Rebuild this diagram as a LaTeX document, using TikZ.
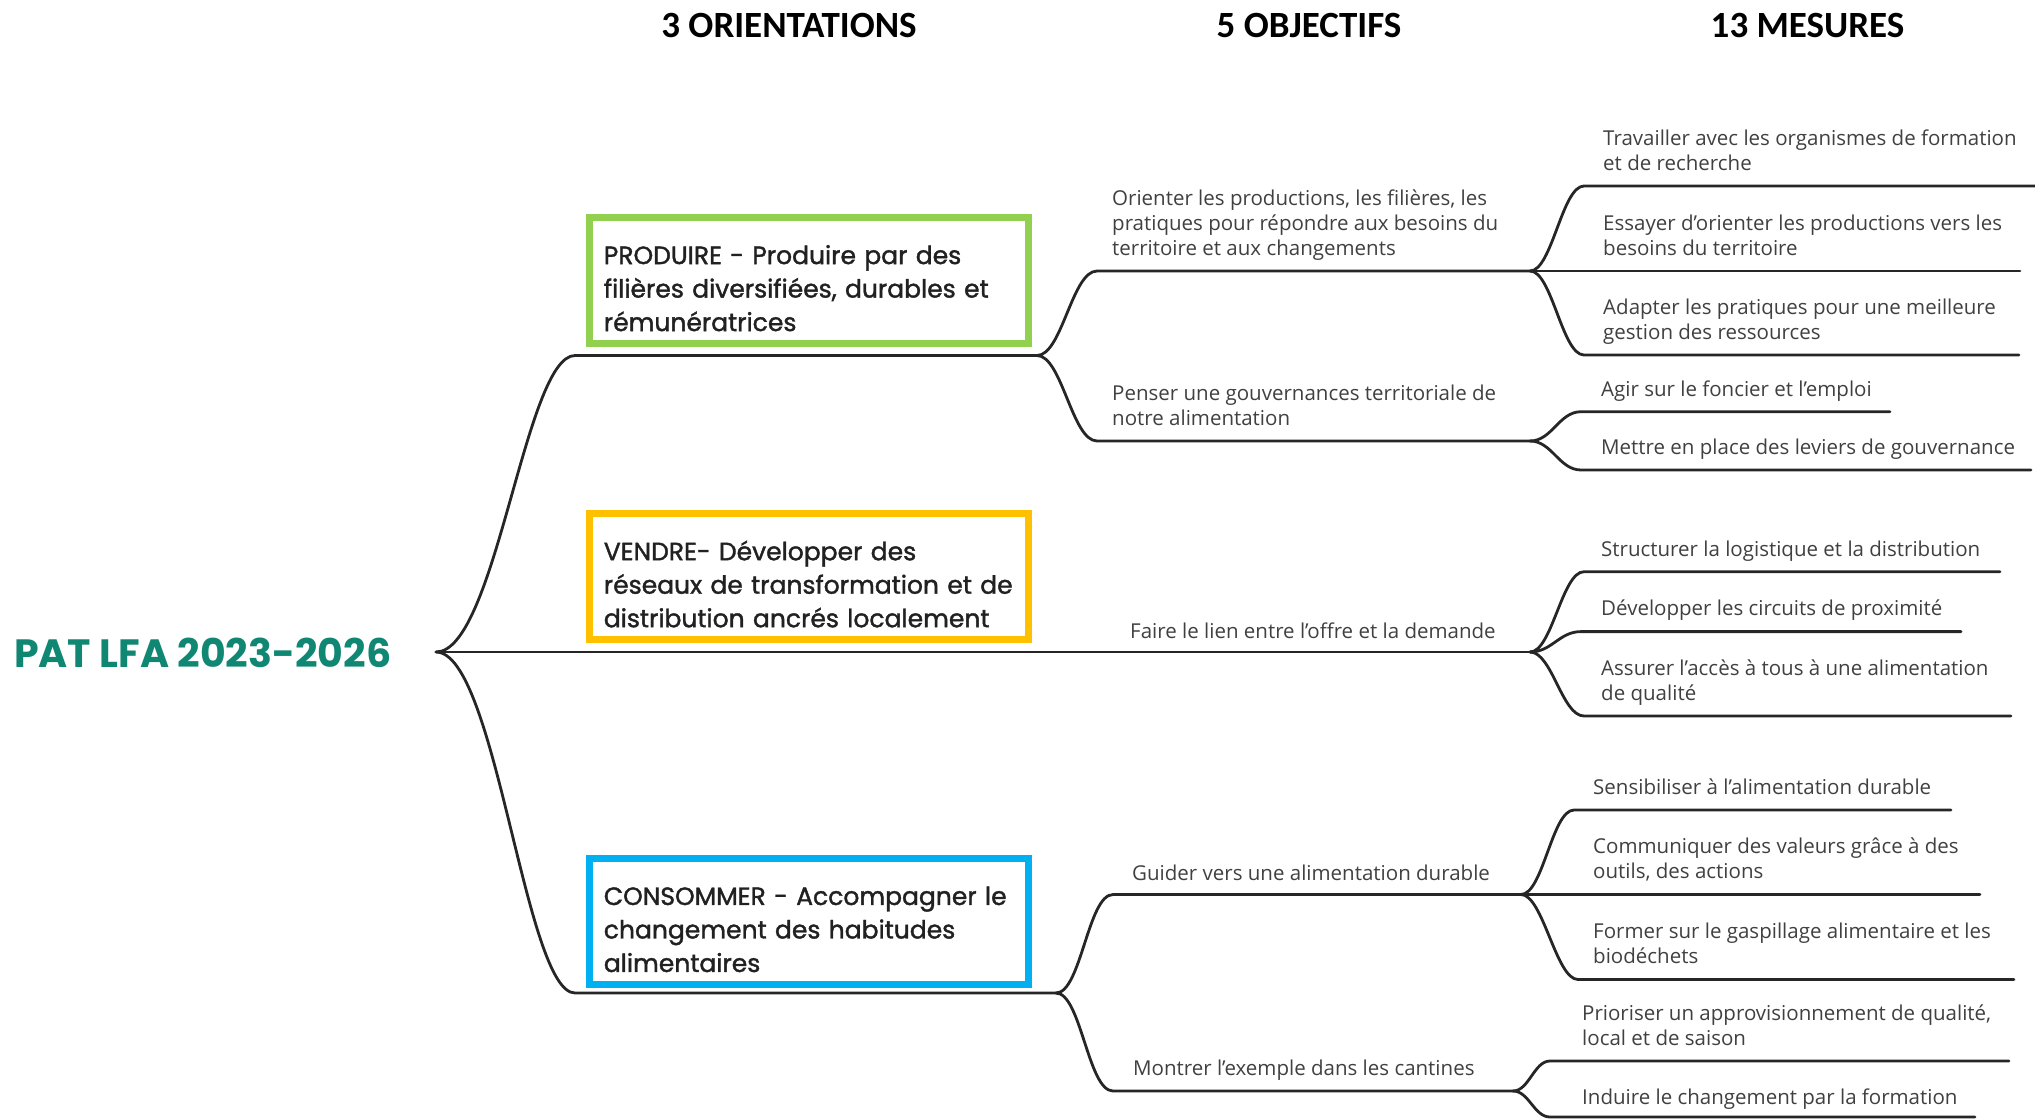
\documentclass[tikz,border=0pt]{standalone}
\usepackage{fontspec}
\setmainfont{Open Sans}
\newfontfamily\titlefont{Poppins}
\newfontfamily\boxfont{Poppins}[FakeBold=1.5]
\newfontfamily\headfont{Carlito}
\usepackage{xcolor}
\usetikzlibrary{positioning}

\definecolor{prodgreen}{RGB}{146,208,80}
\definecolor{vendorange}{RGB}{255,192,0}
\definecolor{consblue}{RGB}{0,176,240}
\definecolor{titleteal}{RGB}{16,135,114}
\definecolor{linegray}{RGB}{38,38,38}
\definecolor{leafgray}{RGB}{64,64,64}
\definecolor{boxtext}{RGB}{33,33,33}

\begin{document}
\begin{tikzpicture}[x=1pt, y=-1pt,
        head/.style={font=\headfont\bfseries\fontsize{37}{40}\selectfont, anchor=base, inner sep=0pt},
        orient/.style={draw, line width=7pt, text width=410pt, inner xsep=14.35pt, inner ysep=0pt, minimum height=126pt, align=left, text=boxtext,
            font=\boxfont\fontsize{25}{33.5}\selectfont, execute at begin node=\rule{0pt}{44.5pt}, execute at end node=\strut},
        leaftext/.style={anchor=south west, inner sep=0pt, align=left, text=leafgray, font=\fontsize{20.5}{25}\selectfont, execute at end node=\strut},
        branch/.style={draw=linegray, line width=2.8pt, line cap=round}]

        \useasboundingbox (0,0) rectangle (2035,1119);

        % Headers
        \node[head] (hor) at (789,37) {3 ORIENTATIONS};
        \node[head] (hob) at (1309,37) {5 OBJECTIFS};
        \node[head] (hme) at (1807.5,37) {13 MESURES};

        % Root
        \node[anchor=base west, inner sep=0pt, text=titleteal, font=\titlefont\bfseries\fontsize{39.5}{42}\selectfont] (pat) at (14,667) {PAT LFA 2023-2026};
        \coordinate (root) at (436,652);

        % Orientations
        \node[orient, draw=prodgreen] (produire) at (808.85,280.35) {PRODUIRE - Produire par des\\filières diversifiées, durables et\\rémunératrices};
        \node[orient, draw=vendorange] (vendre) at (808.85,576.5) {VENDRE- Développer des\\réseaux de transformation et de\\distribution ancrés localement};
        \node[orient, draw=consblue] (consommer) at (808.85,921.25) {CONSOMMER - Accompagner le\\changement des habitudes\\alimentaires};

        \coordinate (prods) at (575,355.5);  \coordinate (prode) at (1037,355.5);
        \coordinate (conss) at (575,993);    \coordinate (conse) at (1056,993);

        % Objectifs
        \coordinate (o1s) at (1097,271);   \coordinate (o1e) at (1530,271);
        \coordinate (o2s) at (1097,441);   \coordinate (o2e) at (1530,441);
        \coordinate (o3e) at (1530,652);
        \coordinate (o4s) at (1113,894.5); \coordinate (o4e) at (1521,894.5);
        \coordinate (o5s) at (1113,1091);  \coordinate (o5e) at (1513,1091);

        \node[leaftext] (o1) at (1112,262.7) {Orienter les productions, les filières, les\\pratiques pour répondre aux besoins du\\territoire et aux changements};
        \node[leaftext] (o2) at (1112,432.7) {Penser une gouvernances territoriale de\\notre alimentation};
        \node[leaftext] (o3) at (1130,646) {Faire le lien entre l'offre et la demande};
        \node[leaftext] (o4) at (1132,888) {Guider vers une alimentation durable};
        \node[leaftext] (o5) at (1133,1083) {Montrer l'exemple dans les cantines};

        % Mesures
        \coordinate (m1s) at (1584,186);    \coordinate (m1e) at (2035,186);
        \coordinate (m2e) at (2020,271);
        \coordinate (m3s) at (1584,355);    \coordinate (m3e) at (2019,355);
        \coordinate (m4s) at (1581,411.7);  \coordinate (m4e) at (1890,411.7);
        \coordinate (m5s) at (1581,470);    \coordinate (m5e) at (2031,470);
        \coordinate (m6s) at (1584,571.7);  \coordinate (m6e) at (2000,571.7);
        \coordinate (m7s) at (1581,631.6);  \coordinate (m7e) at (1961,631.6);
        \coordinate (m8s) at (1584,716);    \coordinate (m8e) at (2011,716);
        \coordinate (m9s) at (1574,810);    \coordinate (m9e) at (1951,810);
        \coordinate (m10e) at (1980,894.5);
        \coordinate (m11s) at (1578,979.5); \coordinate (m11e) at (2014,979.5);
        \coordinate (m12s) at (1550,1061);  \coordinate (m12e) at (2009,1061);
        \coordinate (m13s) at (1550,1117);  \coordinate (m13e) at (1975,1117);

        \node[leaftext] (m1) at (1603,178) {Travailler avec les organismes de formation\\et de recherche};
        \node[leaftext] (m2) at (1603,263) {Essayer d'orienter les productions vers les\\besoins du territoire};
        \node[leaftext] (m3) at (1603,347) {Adapter les pratiques pour une meilleure\\gestion des ressources};
        \node[leaftext] (m4) at (1601,403.7) {Agir sur le foncier et l'emploi};
        \node[leaftext] (m5) at (1601,462) {Mettre en place des leviers de gouvernance};
        \node[leaftext] (m6) at (1601,563.7) {Structurer la logistique et la distribution};
        \node[leaftext] (m7) at (1601,623.6) {Développer les circuits de proximité};
        \node[leaftext] (m8) at (1601,708) {Assurer l'accès à tous à une alimentation\\de qualité};
        \node[leaftext] (m9) at (1593,802) {Sensibiliser à l'alimentation durable};
        \node[leaftext] (m10) at (1593,886.5) {Communiquer des valeurs grâce à des\\outils, des actions};
        \node[leaftext] (m11) at (1593,971.5) {Former sur le gaspillage alimentaire et les\\biodéchets};
        \node[leaftext] (m12) at (1582,1053) {Prioriser un approvisionnement de qualité,\\local et de saison};
        \node[leaftext] (m13) at (1582,1112) {Induire le changement par la formation};

        % Connections: root to orientations
        \draw[branch] (root) .. controls +(60,0) and +(-50,0) .. (prods) -- (prode);
        \draw[branch] (root) -- (o3e);
        \draw[branch] (root) .. controls +(60,0) and +(-50,0) .. (conss) -- (conse);

        % orientations to objectifs
        \draw[branch] (prode) .. controls +(25,0) and +(-25,0) .. (o1s) -- (o1e);
        \draw[branch] (prode) .. controls +(25,0) and +(-25,0) .. (o2s) -- (o2e);
        \draw[branch] (conse) .. controls +(25,0) and +(-25,0) .. (o4s) -- (o4e);
        \draw[branch] (conse) .. controls +(25,0) and +(-25,0) .. (o5s) -- (o5e);

        % objectifs to mesures
        \draw[branch] (o1e) .. controls +(22,0) and +(-22,0) .. (m1s) -- (m1e);
        \draw[branch] (o1e) -- (m2e);
        \draw[branch] (o1e) .. controls +(22,0) and +(-22,0) .. (m3s) -- (m3e);
        \draw[branch] (o2e) .. controls +(22,0) and +(-22,0) .. (m4s) -- (m4e);
        \draw[branch] (o2e) .. controls +(22,0) and +(-22,0) .. (m5s) -- (m5e);
        \draw[branch] (o3e) .. controls +(22,0) and +(-22,0) .. (m6s) -- (m6e);
        \draw[branch] (o3e) .. controls +(22,0) and +(-22,0) .. (m7s) -- (m7e);
        \draw[branch] (o3e) .. controls +(22,0) and +(-22,0) .. (m8s) -- (m8e);
        \draw[branch] (o4e) .. controls +(22,0) and +(-22,0) .. (m9s) -- (m9e);
        \draw[branch] (o4e) -- (m10e);
        \draw[branch] (o4e) .. controls +(22,0) and +(-22,0) .. (m11s) -- (m11e);
        \draw[branch] (o5e) .. controls +(16,0) and +(-16,0) .. (m12s) -- (m12e);
        \draw[branch] (o5e) .. controls +(16,0) and +(-16,0) .. (m13s) -- (m13e);

\end{tikzpicture}
\end{document}
